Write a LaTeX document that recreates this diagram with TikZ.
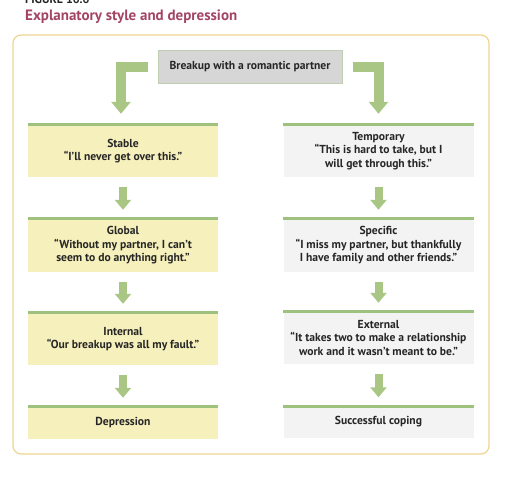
\documentclass[tikz,border=0pt]{standalone}
\usepackage{fontspec}
\setmainfont{PT Sans}
\usetikzlibrary{arrows.meta}
\definecolor{titlecol}{RGB}{163,68,102}
\definecolor{frame}{RGB}{238,212,145}
\definecolor{greenbar}{RGB}{158,194,126}
\definecolor{arrowgreen}{RGB}{170,198,132}
\definecolor{yellowfill}{RGB}{246,240,188}
\definecolor{grayfill}{RGB}{243,243,243}
\definecolor{topfill}{RGB}{214,214,214}
\tikzset{
  box/.style={minimum width=190pt, inner sep=2pt, align=center, font=\bfseries\fontsize{11.6}{13.5}\selectfont, text=black!85},
  leftbox/.style={box, fill=yellowfill},
  rightbox/.style={box, fill=grayfill},
  topbox/.style={fill=topfill, draw=greenbar!40!topfill, line width=1pt, minimum width=184pt, minimum height=33pt, font=\bfseries\fontsize{11.6}{13.5}\selectfont, text=black!85},
  fatarrow/.style={draw=arrowgreen, line width=10pt, line join=miter, -{Triangle[width=19pt,length=12pt]}},
  smallarrow/.style={draw=arrowgreen, line width=8pt, -{Triangle[width=16pt,length=10pt]}},
  topline/.style={draw=greenbar, line width=3pt},
}
\begin{document}
\begin{tikzpicture}[x=1pt,y=-1pt]
\useasboundingbox (0,0) rectangle (507,479);
% headings
\node[anchor=base west, inner sep=0, font=\bfseries\fontsize{12}{14}\selectfont, text=black!85] (fig) at (25,3.5) {FIGURE 16.6};
\node[anchor=base west, inner sep=0, font=\bfseries\fontsize{15}{17}\selectfont, text=titlecol] (title) at (25,20.5) {Explanatory style and depression};
% frame
\draw[frame, line width=1.2pt, rounded corners=8pt] (13,35) rectangle (489,454);
% top box
\node[topbox] (top) at (250,66.5) {Breakup with a romantic partner};
% left column
\node[leftbox, minimum height=52pt] (l1) at (123,151) {Stable\\“I’ll never get over this.”};
\node[leftbox, minimum height=53pt] (l2) at (123,245.5) {Global\\“Without my partner, I can’t\\seem to do anything right.”};
\node[leftbox, minimum height=52pt] (l3) at (123,339) {Internal\\“Our breakup was all my fault.”};
\node[leftbox, minimum height=32pt] (l4) at (123,423) {Depression};
% right column
\node[rightbox, minimum height=52pt] (r1) at (378.5,151) {Temporary\\“This is hard to take, but I\\will get through this.”};
\node[rightbox, minimum height=53pt] (r2) at (378.5,245.5) {Specific\\“I miss my partner, but thankfully\\I have family and other friends.”};
\node[rightbox, minimum height=52pt] (r3) at (378.5,338) {External\\“It takes two to make a relationship\\work and it wasn’t meant to be.”};
\node[rightbox, minimum height=31pt] (r4) at (378.5,422) {Successful coping};
% green top lines
\foreach \n in {l1,l2,l3,l4,r1,r2,r3,r4}{
  \draw[topline] (\n.north west) -- (\n.north east);
}
% elbow arrows
\draw[fatarrow] ([xshift=-10pt]top.west) -| ([yshift=11pt,xshift=-2pt]l1.north);
\draw[fatarrow] ([xshift=10pt]top.east) -| ([yshift=11pt]r1.north);
% down arrows
\foreach \a/\b in {l1/l2,l2/l3,l3/l4,r1/r2,r2/r3,r3/r4}{
  \draw[smallarrow] ([yshift=-10pt]\a.south) -- ([yshift=9pt]\b.north);
}
\end{tikzpicture}
\end{document}
